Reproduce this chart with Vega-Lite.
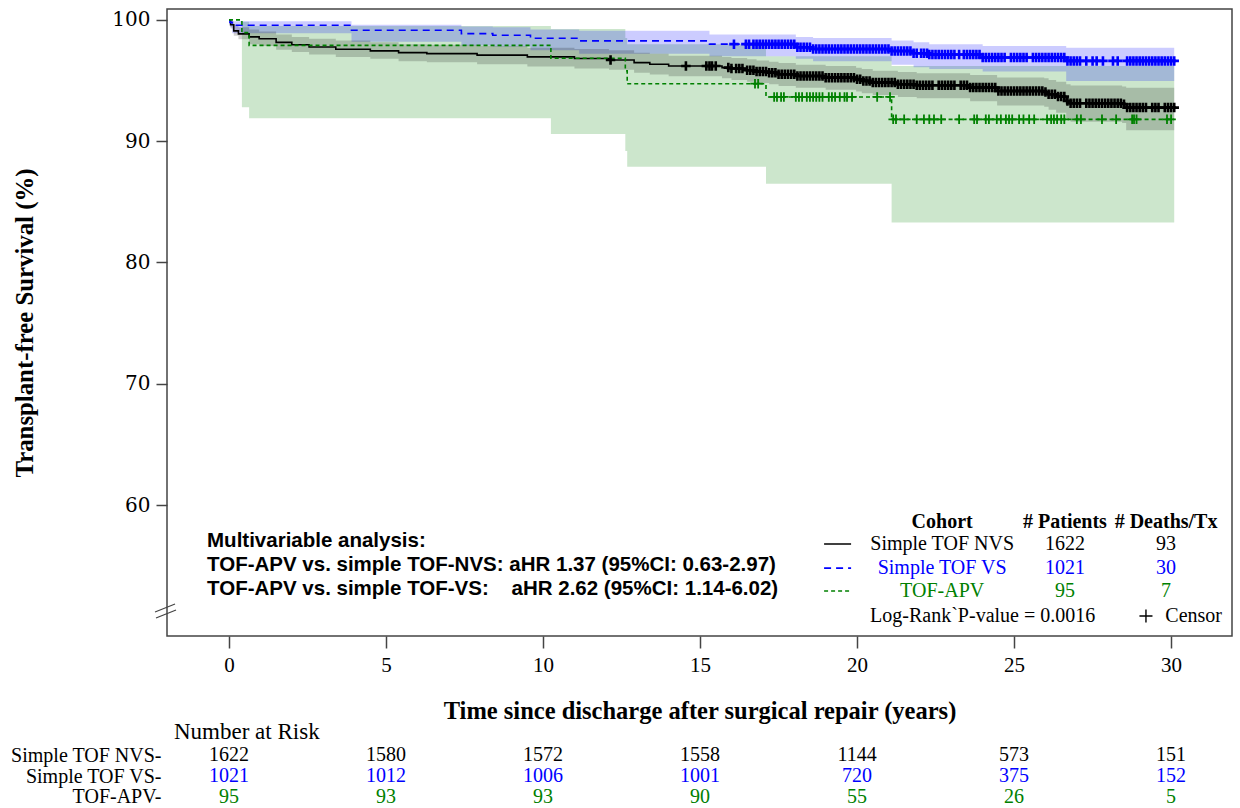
{
 "$schema": "https://vega.github.io/schema/vega-lite/v6.json",
 "background": "white",
 "padding": {"left": 10, "top": 8, "right": 5, "bottom": 0},
 "spacing": -3,
 "datasets": {
  "km": [
   {"g":"NVS","t":0,"v":100,"hi":100,"lo":100},
   {"g":"NVS","t":0.05,"v":99.6,"hi":99.9,"lo":99.3},
   {"g":"NVS","t":0.15,"v":99.1,"hi":99.6,"lo":98.7},
   {"g":"NVS","t":0.3,"v":98.85,"hi":99.4,"lo":98.4},
   {"g":"NVS","t":0.64,"v":98.6,"hi":99.2,"lo":98.0},
   {"g":"NVS","t":0.96,"v":98.45,"hi":99.05,"lo":97.85},
   {"g":"NVS","t":1.5,"v":98.15,"hi":98.8,"lo":97.55},
   {"g":"NVS","t":2.0,"v":97.95,"hi":98.6,"lo":97.35},
   {"g":"NVS","t":2.55,"v":97.77,"hi":98.45,"lo":97.15},
   {"g":"NVS","t":3.4,"v":97.58,"hi":98.3,"lo":96.95},
   {"g":"NVS","t":4.5,"v":97.45,"hi":98.15,"lo":96.8},
   {"g":"NVS","t":5.4,"v":97.3,"hi":98.0,"lo":96.6},
   {"g":"NVS","t":6.3,"v":97.22,"hi":97.95,"lo":96.5},
   {"g":"NVS","t":7.9,"v":97.1,"hi":97.85,"lo":96.35},
   {"g":"NVS","t":9.5,"v":96.95,"hi":97.7,"lo":96.15},
   {"g":"NVS","t":11.0,"v":96.82,"hi":97.6,"lo":96.0},
   {"g":"NVS","t":12.1,"v":96.7,"hi":97.5,"lo":95.9},
   {"g":"NVS","t":12.9,"v":96.48,"hi":97.3,"lo":95.65},
   {"g":"NVS","t":13.4,"v":96.35,"hi":97.2,"lo":95.5},
   {"g":"NVS","t":14.0,"v":96.2,"hi":97.05,"lo":95.35},
   {"g":"NVS","t":15.7,"v":96.07,"hi":96.95,"lo":95.2},
   {"g":"NVS","t":16.0,"v":95.99,"hi":96.85,"lo":95.05},
   {"g":"NVS","t":16.5,"v":95.85,"hi":96.75,"lo":94.9},
   {"g":"NVS","t":16.8,"v":95.74,"hi":96.65,"lo":94.8},
   {"g":"NVS","t":17.2,"v":95.65,"hi":96.55,"lo":94.7},
   {"g":"NVS","t":17.5,"v":95.52,"hi":96.45,"lo":94.55},
   {"g":"NVS","t":18.05,"v":95.38,"hi":96.3,"lo":94.4},
   {"g":"NVS","t":19.0,"v":95.24,"hi":96.2,"lo":94.25},
   {"g":"NVS","t":19.97,"v":95.1,"hi":96.05,"lo":94.1},
   {"g":"NVS","t":20.15,"v":94.97,"hi":95.95,"lo":93.95},
   {"g":"NVS","t":20.5,"v":94.83,"hi":95.8,"lo":93.8},
   {"g":"NVS","t":21.3,"v":94.7,"hi":95.7,"lo":93.65},
   {"g":"NVS","t":21.9,"v":94.61,"hi":95.6,"lo":93.55},
   {"g":"NVS","t":23.6,"v":94.42,"hi":95.45,"lo":93.3},
   {"g":"NVS","t":24.46,"v":94.14,"hi":95.25,"lo":92.95},
   {"g":"NVS","t":25.96,"v":94.06,"hi":95.2,"lo":92.85},
   {"g":"NVS","t":26.1,"v":93.87,"hi":95.05,"lo":92.6},
   {"g":"NVS","t":26.34,"v":93.68,"hi":94.9,"lo":92.35},
   {"g":"NVS","t":26.66,"v":93.32,"hi":94.7,"lo":91.85},
   {"g":"NVS","t":26.8,"v":93.13,"hi":94.6,"lo":91.6},
   {"g":"NVS","t":28.44,"v":93.05,"hi":94.5,"lo":91.5},
   {"g":"NVS","t":28.57,"v":92.77,"hi":94.4,"lo":90.9},
   {"g":"NVS","t":30.1,"v":92.77,"hi":94.4,"lo":90.9},
   {"g":"VS","t":0,"v":100,"hi":100,"lo":100},
   {"g":"VS","t":0.03,"v":99.8,"hi":100,"lo":99.4},
   {"g":"VS","t":0.1,"v":99.56,"hi":99.9,"lo":98.9},
   {"g":"VS","t":3.9,"v":99.15,"hi":99.6,"lo":98.2},
   {"g":"VS","t":7.4,"v":98.87,"hi":99.45,"lo":97.9},
   {"g":"VS","t":8.4,"v":98.74,"hi":99.4,"lo":97.8},
   {"g":"VS","t":9.6,"v":98.49,"hi":99.2,"lo":97.5},
   {"g":"VS","t":11.15,"v":98.27,"hi":99.1,"lo":97.2},
   {"g":"VS","t":15.3,"v":98.0,"hi":98.8,"lo":97.0},
   {"g":"VS","t":18.05,"v":97.75,"hi":98.6,"lo":96.8},
   {"g":"VS","t":18.6,"v":97.6,"hi":98.5,"lo":96.6},
   {"g":"VS","t":21.1,"v":97.44,"hi":98.3,"lo":96.3},
   {"g":"VS","t":21.8,"v":97.25,"hi":98.15,"lo":96.1},
   {"g":"VS","t":22.3,"v":97.15,"hi":98.0,"lo":95.95},
   {"g":"VS","t":24.0,"v":96.9,"hi":97.85,"lo":95.75},
   {"g":"VS","t":26.66,"v":96.62,"hi":97.7,"lo":94.97},
   {"g":"VS","t":30.1,"v":96.62,"hi":97.7,"lo":94.97},
   {"g":"APV","t":0,"v":100,"hi":100,"lo":100},
   {"g":"APV","t":0.41,"v":98.95,"hi":99.85,"lo":92.8},
   {"g":"APV","t":0.64,"v":97.9,"hi":99.5,"lo":91.9},
   {"g":"APV","t":10.25,"v":96.84,"hi":99.25,"lo":90.6},
   {"g":"APV","t":12.62,"v":95.8,"hi":98.5,"lo":89.2},
   {"g":"APV","t":12.68,"v":94.74,"hi":98.0,"lo":87.9},
   {"g":"APV","t":17.1,"v":93.65,"hi":97.0,"lo":86.5},
   {"g":"APV","t":21.1,"v":91.8,"hi":96.2,"lo":83.3},
   {"g":"APV","t":30.1,"v":91.8,"hi":96.2,"lo":83.3}
  ],
  "cens": [
   {"g":"NVS","t":12.15,"v":96.7},{"g":"NVS","t":14.55,"v":96.2},{"g":"NVS","t":15.2,"v":96.2},{"g":"NVS","t":15.3,"v":96.2},{"g":"NVS","t":15.38,"v":96.2},{"g":"NVS","t":15.5,"v":96.2},{"g":"NVS","t":15.9,"v":96.07},{"g":"NVS","t":16.0,"v":95.99},{"g":"NVS","t":16.15,"v":95.99},{"g":"NVS","t":16.25,"v":95.99},{"g":"NVS","t":16.35,"v":95.99},
   {"g":"NVS","t":16.5,"v":95.85},{"g":"NVS","t":16.6,"v":95.85},{"g":"NVS","t":16.7,"v":95.85},
   {"g":"NVS","t":16.8,"v":95.74},{"g":"NVS","t":16.9,"v":95.74},{"g":"NVS","t":17.0,"v":95.74},{"g":"NVS","t":17.1,"v":95.74},
   {"g":"NVS","t":17.2,"v":95.65},{"g":"NVS","t":17.3,"v":95.65},{"g":"NVS","t":17.4,"v":95.65},
   {"g":"NVS","t":17.5,"v":95.52},{"g":"NVS","t":17.6,"v":95.52},{"g":"NVS","t":17.7,"v":95.52},{"g":"NVS","t":17.8,"v":95.52},{"g":"NVS","t":17.9,"v":95.52},{"g":"NVS","t":18.0,"v":95.52},
   {"g":"NVS","t":18.1,"v":95.38},{"g":"NVS","t":18.2,"v":95.38},{"g":"NVS","t":18.3,"v":95.38},{"g":"NVS","t":18.4,"v":95.38},{"g":"NVS","t":18.5,"v":95.38},{"g":"NVS","t":18.6,"v":95.38},{"g":"NVS","t":18.7,"v":95.38},{"g":"NVS","t":18.8,"v":95.38},{"g":"NVS","t":18.9,"v":95.38},
   {"g":"NVS","t":19.0,"v":95.24},{"g":"NVS","t":19.1,"v":95.24},{"g":"NVS","t":19.2,"v":95.24},{"g":"NVS","t":19.3,"v":95.24},{"g":"NVS","t":19.4,"v":95.24},{"g":"NVS","t":19.5,"v":95.24},{"g":"NVS","t":19.6,"v":95.24},{"g":"NVS","t":19.7,"v":95.24},{"g":"NVS","t":19.8,"v":95.24},{"g":"NVS","t":19.9,"v":95.24},
   {"g":"NVS","t":20.0,"v":95.1},{"g":"NVS","t":20.1,"v":95.1},
   {"g":"NVS","t":20.2,"v":94.97},{"g":"NVS","t":20.3,"v":94.97},{"g":"NVS","t":20.4,"v":94.97},
   {"g":"NVS","t":20.5,"v":94.83},{"g":"NVS","t":20.6,"v":94.83},{"g":"NVS","t":20.7,"v":94.83},{"g":"NVS","t":20.8,"v":94.83},{"g":"NVS","t":20.9,"v":94.83},{"g":"NVS","t":21.0,"v":94.83},{"g":"NVS","t":21.1,"v":94.83},{"g":"NVS","t":21.2,"v":94.83},
   {"g":"NVS","t":21.3,"v":94.7},{"g":"NVS","t":21.4,"v":94.7},{"g":"NVS","t":21.5,"v":94.7},{"g":"NVS","t":21.6,"v":94.7},{"g":"NVS","t":21.7,"v":94.7},{"g":"NVS","t":21.8,"v":94.7},
   {"g":"NVS","t":21.9,"v":94.61},{"g":"NVS","t":22.0,"v":94.61},{"g":"NVS","t":22.1,"v":94.61},{"g":"NVS","t":22.2,"v":94.61},{"g":"NVS","t":22.3,"v":94.61},{"g":"NVS","t":22.4,"v":94.61},{"g":"NVS","t":22.6,"v":94.61},{"g":"NVS","t":22.7,"v":94.61},{"g":"NVS","t":22.8,"v":94.61},{"g":"NVS","t":22.9,"v":94.61},{"g":"NVS","t":23.0,"v":94.61},{"g":"NVS","t":23.1,"v":94.61},{"g":"NVS","t":23.3,"v":94.61},{"g":"NVS","t":23.4,"v":94.61},{"g":"NVS","t":23.5,"v":94.61},
   {"g":"NVS","t":23.6,"v":94.42},{"g":"NVS","t":23.7,"v":94.42},{"g":"NVS","t":23.8,"v":94.42},{"g":"NVS","t":23.9,"v":94.42},{"g":"NVS","t":24.0,"v":94.42},{"g":"NVS","t":24.1,"v":94.42},{"g":"NVS","t":24.2,"v":94.42},{"g":"NVS","t":24.3,"v":94.42},{"g":"NVS","t":24.4,"v":94.42},
   {"g":"NVS","t":24.5,"v":94.14},{"g":"NVS","t":24.6,"v":94.14},{"g":"NVS","t":24.7,"v":94.14},{"g":"NVS","t":24.8,"v":94.14},{"g":"NVS","t":24.9,"v":94.14},{"g":"NVS","t":25.0,"v":94.14},{"g":"NVS","t":25.1,"v":94.14},{"g":"NVS","t":25.2,"v":94.14},{"g":"NVS","t":25.3,"v":94.14},{"g":"NVS","t":25.4,"v":94.14},{"g":"NVS","t":25.5,"v":94.14},{"g":"NVS","t":25.6,"v":94.14},{"g":"NVS","t":25.7,"v":94.14},{"g":"NVS","t":25.8,"v":94.14},{"g":"NVS","t":25.9,"v":94.14},
   {"g":"NVS","t":26.0,"v":94.06},{"g":"NVS","t":26.1,"v":93.87},{"g":"NVS","t":26.2,"v":93.87},{"g":"NVS","t":26.3,"v":93.87},{"g":"NVS","t":26.4,"v":93.68},{"g":"NVS","t":26.5,"v":93.68},{"g":"NVS","t":26.6,"v":93.68},{"g":"NVS","t":26.7,"v":93.32},
   {"g":"NVS","t":26.8,"v":93.13},{"g":"NVS","t":26.9,"v":93.13},{"g":"NVS","t":27.0,"v":93.13},{"g":"NVS","t":27.1,"v":93.13},{"g":"NVS","t":27.3,"v":93.13},{"g":"NVS","t":27.4,"v":93.13},{"g":"NVS","t":27.5,"v":93.13},{"g":"NVS","t":27.6,"v":93.13},{"g":"NVS","t":27.7,"v":93.13},{"g":"NVS","t":27.8,"v":93.13},{"g":"NVS","t":27.9,"v":93.13},{"g":"NVS","t":28.0,"v":93.13},{"g":"NVS","t":28.1,"v":93.13},{"g":"NVS","t":28.2,"v":93.13},{"g":"NVS","t":28.3,"v":93.13},{"g":"NVS","t":28.4,"v":93.13},
   {"g":"NVS","t":28.5,"v":93.05},
   {"g":"NVS","t":28.6,"v":92.77},{"g":"NVS","t":28.7,"v":92.77},{"g":"NVS","t":28.8,"v":92.77},{"g":"NVS","t":28.9,"v":92.77},{"g":"NVS","t":29.0,"v":92.77},{"g":"NVS","t":29.1,"v":92.77},{"g":"NVS","t":29.2,"v":92.77},{"g":"NVS","t":29.4,"v":92.77},{"g":"NVS","t":29.5,"v":92.77},{"g":"NVS","t":29.6,"v":92.77},{"g":"NVS","t":29.8,"v":92.77},{"g":"NVS","t":29.9,"v":92.77},{"g":"NVS","t":30.0,"v":92.77},{"g":"NVS","t":30.1,"v":92.77},
   {"g":"VS","t":16.08,"v":98.0},{"g":"VS","t":16.46,"v":98.0},{"g":"VS","t":16.56,"v":98.0},
   {"g":"VS","t":16.7,"v":98.0},{"g":"VS","t":16.8,"v":98.0},{"g":"VS","t":16.9,"v":98.0},{"g":"VS","t":17.0,"v":98.0},{"g":"VS","t":17.1,"v":98.0},{"g":"VS","t":17.2,"v":98.0},{"g":"VS","t":17.3,"v":98.0},{"g":"VS","t":17.4,"v":98.0},{"g":"VS","t":17.5,"v":98.0},{"g":"VS","t":17.6,"v":98.0},{"g":"VS","t":17.7,"v":98.0},{"g":"VS","t":17.8,"v":98.0},{"g":"VS","t":17.9,"v":98.0},{"g":"VS","t":18.0,"v":98.0},
   {"g":"VS","t":18.1,"v":97.75},{"g":"VS","t":18.2,"v":97.75},{"g":"VS","t":18.3,"v":97.75},{"g":"VS","t":18.4,"v":97.75},{"g":"VS","t":18.5,"v":97.75},
   {"g":"VS","t":18.6,"v":97.6},{"g":"VS","t":18.7,"v":97.6},{"g":"VS","t":18.8,"v":97.6},{"g":"VS","t":18.9,"v":97.6},{"g":"VS","t":19.0,"v":97.6},{"g":"VS","t":19.1,"v":97.6},{"g":"VS","t":19.2,"v":97.6},{"g":"VS","t":19.3,"v":97.6},{"g":"VS","t":19.4,"v":97.6},{"g":"VS","t":19.5,"v":97.6},{"g":"VS","t":19.6,"v":97.6},{"g":"VS","t":19.7,"v":97.6},{"g":"VS","t":19.8,"v":97.6},{"g":"VS","t":19.9,"v":97.6},{"g":"VS","t":20.0,"v":97.6},{"g":"VS","t":20.1,"v":97.6},{"g":"VS","t":20.2,"v":97.6},{"g":"VS","t":20.3,"v":97.6},{"g":"VS","t":20.4,"v":97.6},{"g":"VS","t":20.5,"v":97.6},{"g":"VS","t":20.6,"v":97.6},{"g":"VS","t":20.7,"v":97.6},{"g":"VS","t":20.8,"v":97.6},{"g":"VS","t":20.9,"v":97.6},{"g":"VS","t":21.0,"v":97.6},
   {"g":"VS","t":21.1,"v":97.44},{"g":"VS","t":21.2,"v":97.44},{"g":"VS","t":21.3,"v":97.44},{"g":"VS","t":21.4,"v":97.44},{"g":"VS","t":21.5,"v":97.44},{"g":"VS","t":21.6,"v":97.44},{"g":"VS","t":21.7,"v":97.44},
   {"g":"VS","t":21.8,"v":97.25},{"g":"VS","t":21.9,"v":97.25},{"g":"VS","t":22.04,"v":97.25},{"g":"VS","t":22.13,"v":97.25},{"g":"VS","t":22.23,"v":97.25},
   {"g":"VS","t":22.3,"v":97.15},{"g":"VS","t":22.4,"v":97.15},{"g":"VS","t":22.5,"v":97.15},{"g":"VS","t":22.6,"v":97.15},{"g":"VS","t":22.7,"v":97.15},{"g":"VS","t":22.8,"v":97.15},{"g":"VS","t":22.9,"v":97.15},{"g":"VS","t":23.0,"v":97.15},{"g":"VS","t":23.1,"v":97.15},{"g":"VS","t":23.25,"v":97.15},{"g":"VS","t":23.4,"v":97.15},{"g":"VS","t":23.5,"v":97.15},{"g":"VS","t":23.6,"v":97.15},{"g":"VS","t":23.7,"v":97.15},{"g":"VS","t":23.8,"v":97.15},{"g":"VS","t":23.9,"v":97.15},
   {"g":"VS","t":24.0,"v":96.9},{"g":"VS","t":24.1,"v":96.9},{"g":"VS","t":24.2,"v":96.9},{"g":"VS","t":24.3,"v":96.9},{"g":"VS","t":24.4,"v":96.9},{"g":"VS","t":24.5,"v":96.9},{"g":"VS","t":24.6,"v":96.9},{"g":"VS","t":24.7,"v":96.9},{"g":"VS","t":24.9,"v":96.9},{"g":"VS","t":25.0,"v":96.9},{"g":"VS","t":25.1,"v":96.9},{"g":"VS","t":25.2,"v":96.9},{"g":"VS","t":25.3,"v":96.9},{"g":"VS","t":25.4,"v":96.9},{"g":"VS","t":25.6,"v":96.9},{"g":"VS","t":25.7,"v":96.9},{"g":"VS","t":25.8,"v":96.9},{"g":"VS","t":25.9,"v":96.9},{"g":"VS","t":26.0,"v":96.9},{"g":"VS","t":26.1,"v":96.9},{"g":"VS","t":26.2,"v":96.9},{"g":"VS","t":26.3,"v":96.9},{"g":"VS","t":26.4,"v":96.9},{"g":"VS","t":26.5,"v":96.9},{"g":"VS","t":26.6,"v":96.9},
   {"g":"VS","t":26.7,"v":96.62},{"g":"VS","t":26.8,"v":96.62},{"g":"VS","t":26.9,"v":96.62},{"g":"VS","t":27.0,"v":96.62},{"g":"VS","t":27.1,"v":96.62},{"g":"VS","t":27.3,"v":96.62},{"g":"VS","t":27.5,"v":96.62},{"g":"VS","t":27.63,"v":96.62},{"g":"VS","t":27.83,"v":96.62},{"g":"VS","t":28.15,"v":96.62},{"g":"VS","t":28.3,"v":96.62},{"g":"VS","t":28.6,"v":96.62},{"g":"VS","t":28.7,"v":96.62},{"g":"VS","t":28.8,"v":96.62},{"g":"VS","t":28.9,"v":96.62},{"g":"VS","t":29.0,"v":96.62},{"g":"VS","t":29.1,"v":96.62},{"g":"VS","t":29.2,"v":96.62},{"g":"VS","t":29.3,"v":96.62},{"g":"VS","t":29.4,"v":96.62},{"g":"VS","t":29.5,"v":96.62},{"g":"VS","t":29.6,"v":96.62},{"g":"VS","t":29.7,"v":96.62},{"g":"VS","t":29.8,"v":96.62},{"g":"VS","t":29.9,"v":96.62},{"g":"VS","t":30.0,"v":96.62},{"g":"VS","t":30.1,"v":96.62},
   {"g":"APV","t":16.75,"v":94.74},{"g":"APV","t":16.85,"v":94.74},
   {"g":"APV","t":17.36,"v":93.65},{"g":"APV","t":17.45,"v":93.65},{"g":"APV","t":17.58,"v":93.65},{"g":"APV","t":17.67,"v":93.65},{"g":"APV","t":18.05,"v":93.65},{"g":"APV","t":18.15,"v":93.65},{"g":"APV","t":18.25,"v":93.65},{"g":"APV","t":18.4,"v":93.65},{"g":"APV","t":18.5,"v":93.65},{"g":"APV","t":18.6,"v":93.65},{"g":"APV","t":18.7,"v":93.65},{"g":"APV","t":18.8,"v":93.65},{"g":"APV","t":18.9,"v":93.65},{"g":"APV","t":19.1,"v":93.65},{"g":"APV","t":19.2,"v":93.65},{"g":"APV","t":19.3,"v":93.65},{"g":"APV","t":19.45,"v":93.65},{"g":"APV","t":19.6,"v":93.65},{"g":"APV","t":19.68,"v":93.65},{"g":"APV","t":19.84,"v":93.65},{"g":"APV","t":20.64,"v":93.65},{"g":"APV","t":21.05,"v":93.65},
   {"g":"APV","t":21.15,"v":91.8},{"g":"APV","t":21.24,"v":91.8},{"g":"APV","t":21.5,"v":91.8},{"g":"APV","t":21.9,"v":91.8},{"g":"APV","t":22.13,"v":91.8},{"g":"APV","t":22.3,"v":91.8},{"g":"APV","t":22.45,"v":91.8},{"g":"APV","t":22.68,"v":91.8},{"g":"APV","t":23.25,"v":91.8},{"g":"APV","t":23.73,"v":91.8},{"g":"APV","t":23.82,"v":91.8},{"g":"APV","t":24.1,"v":91.8},{"g":"APV","t":24.2,"v":91.8},{"g":"APV","t":24.45,"v":91.8},{"g":"APV","t":24.58,"v":91.8},{"g":"APV","t":24.74,"v":91.8},{"g":"APV","t":24.84,"v":91.8},{"g":"APV","t":24.94,"v":91.8},{"g":"APV","t":25.16,"v":91.8},{"g":"APV","t":25.3,"v":91.8},{"g":"APV","t":25.48,"v":91.8},{"g":"APV","t":25.64,"v":91.8},{"g":"APV","t":26.05,"v":91.8},{"g":"APV","t":26.18,"v":91.8},{"g":"APV","t":26.27,"v":91.8},{"g":"APV","t":26.37,"v":91.8},{"g":"APV","t":26.5,"v":91.8},{"g":"APV","t":26.6,"v":91.8},{"g":"APV","t":27.0,"v":91.8},{"g":"APV","t":27.13,"v":91.8},{"g":"APV","t":27.8,"v":91.8},{"g":"APV","t":28.25,"v":91.8},{"g":"APV","t":28.76,"v":91.8},{"g":"APV","t":28.82,"v":91.8},{"g":"APV","t":28.9,"v":91.8},{"g":"APV","t":29.87,"v":91.8},{"g":"APV","t":30.0,"v":91.8}
  ],
  "ann": [
   {"t":-0.7,"v":57.03,"label":"Multivariable analysis:"},
   {"t":-0.7,"v":55.05,"label":"TOF-APV vs. simple TOF-NVS: aHR 1.37 (95%CI: 0.63-2.97)"},
   {"t":-0.7,"v":53.07,"label":"TOF-APV vs. simple TOF-VS:\u00a0\u00a0\u00a0 aHR 2.62 (95%CI: 1.14-6.02)"}
  ],
  "leghead": [
   {"t":22.71,"v":58.6,"label":"Cohort"},
   {"t":26.62,"v":58.6,"label":"# Patients"},
   {"t":29.84,"v":58.6,"label":"# Deaths/Tx"}
  ],
  "legcell": [
   {"g":"NVS","t":22.71,"v":56.78,"label":"Simple TOF NVS"},
   {"g":"NVS","t":26.62,"v":56.78,"label":"1622"},
   {"g":"NVS","t":29.84,"v":56.78,"label":"93"},
   {"g":"VS","t":22.71,"v":54.8,"label":"Simple TOF VS"},
   {"g":"VS","t":26.62,"v":54.8,"label":"1021"},
   {"g":"VS","t":29.84,"v":54.8,"label":"30"},
   {"g":"APV","t":22.71,"v":52.91,"label":"TOF-APV"},
   {"g":"APV","t":26.62,"v":52.91,"label":"95"},
   {"g":"APV","t":29.84,"v":52.91,"label":"7"},
   {"g":"NVS","t":24.0,"v":50.85,"label":"Log-Rank`P-value = 0.0016"},
   {"g":"NVS","t":30.72,"v":50.85,"label":"Censor"}
  ],
  "legline": [
   {"g":"NVS","t":18.95,"t2":19.81,"v":56.78},
   {"g":"VS","t":18.95,"t2":19.81,"v":54.8},
   {"g":"APV","t":18.95,"t2":19.81,"v":52.91}
  ],
  "legcen": [{"t":29.2,"v":50.85}],
  "brk": [
   {"t":-2.357,"v":51.18,"t2":-1.72,"v2":51.84},
   {"t":-2.325,"v":50.68,"t2":-1.688,"v2":51.34}
  ],
  "risk": [
   {"row":"Simple TOF NVS-","g":"NVS","t":0,"n":"1622"},{"row":"Simple TOF NVS-","g":"NVS","t":5,"n":"1580"},{"row":"Simple TOF NVS-","g":"NVS","t":10,"n":"1572"},{"row":"Simple TOF NVS-","g":"NVS","t":15,"n":"1558"},{"row":"Simple TOF NVS-","g":"NVS","t":20,"n":"1144"},{"row":"Simple TOF NVS-","g":"NVS","t":25,"n":"573"},{"row":"Simple TOF NVS-","g":"NVS","t":30,"n":"151"},
   {"row":"Simple TOF VS-","g":"VS","t":0,"n":"1021"},{"row":"Simple TOF VS-","g":"VS","t":5,"n":"1012"},{"row":"Simple TOF VS-","g":"VS","t":10,"n":"1006"},{"row":"Simple TOF VS-","g":"VS","t":15,"n":"1001"},{"row":"Simple TOF VS-","g":"VS","t":20,"n":"720"},{"row":"Simple TOF VS-","g":"VS","t":25,"n":"375"},{"row":"Simple TOF VS-","g":"VS","t":30,"n":"152"},
   {"row":"TOF-APV-","g":"APV","t":0,"n":"95"},{"row":"TOF-APV-","g":"APV","t":5,"n":"93"},{"row":"TOF-APV-","g":"APV","t":10,"n":"93"},{"row":"TOF-APV-","g":"APV","t":15,"n":"90"},{"row":"TOF-APV-","g":"APV","t":20,"n":"55"},{"row":"TOF-APV-","g":"APV","t":25,"n":"26"},{"row":"TOF-APV-","g":"APV","t":30,"n":"5"}
  ]
 },
 "vconcat": [
  {
   "width": 1065,
   "height": 627,
   "view": {"stroke": "#444444", "strokeWidth": 1.5},
   "encoding": {
    "x": {"field": "t", "type": "quantitative", "scale": {"domain": [-1.975, 31.94], "nice": false, "zero": false}, "axis": {"values": [0, 5, 10, 15, 20, 25, 30]}, "title": "Time since discharge after surgical repair (years)"},
    "y": {"field": "v", "type": "quantitative", "scale": {"domain": [49.2, 100.9], "nice": false, "zero": false}, "axis": {"values": [60, 70, 80, 90, 100]}, "title": "Transplant-free Survival (%)"}
   },
   "layer": [
    {
     "data": {"name": "km"},
     "transform": [{"filter": "datum.g === 'APV'"}],
     "mark": {"type": "area", "interpolate": "step-after", "fill": "#008000", "fillOpacity": 0.2},
     "encoding": {
      "y": {"field": "hi", "type": "quantitative", "scale": {"domain": [49.2, 100.9], "nice": false, "zero": false}, "axis": {"values": [60, 70, 80, 90, 100]}, "title": "Transplant-free Survival (%)"},
      "y2": {"field": "lo"}
     }
    },
    {
     "data": {"name": "km"},
     "transform": [{"filter": "datum.g === 'VS'"}],
     "mark": {"type": "area", "interpolate": "step-after", "fill": "#0000ff", "fillOpacity": 0.2},
     "encoding": {
      "y": {"field": "hi", "type": "quantitative", "scale": {"domain": [49.2, 100.9], "nice": false, "zero": false}, "axis": {"values": [60, 70, 80, 90, 100]}, "title": "Transplant-free Survival (%)"},
      "y2": {"field": "lo"}
     }
    },
    {
     "data": {"name": "km"},
     "transform": [{"filter": "datum.g === 'NVS'"}],
     "mark": {"type": "area", "interpolate": "step-after", "fill": "#000000", "fillOpacity": 0.18},
     "encoding": {
      "y": {"field": "hi", "type": "quantitative", "scale": {"domain": [49.2, 100.9], "nice": false, "zero": false}, "axis": {"values": [60, 70, 80, 90, 100]}, "title": "Transplant-free Survival (%)"},
      "y2": {"field": "lo"}
     }
    },
    {
     "data": {"name": "km"},
     "mark": {"type": "line", "interpolate": "step-after", "strokeWidth": 1.6},
     "encoding": {
      "color": {"field": "g", "type": "nominal", "scale": {"domain": ["NVS", "VS", "APV"], "range": ["#000000", "#0000ff", "#008000"]}, "legend": null},
      "strokeDash": {"field": "g", "type": "nominal", "scale": {"domain": ["NVS", "VS", "APV"], "range": [[1, 0], [7, 5], [4, 3]]}, "legend": null}
     }
    },
    {
     "data": {"name": "cens"},
     "transform": [{"filter": "datum.g !== 'APV'"}],
     "mark": {"type": "point", "shape": "M0,-1V1M-1,0H1", "filled": false, "size": 90, "strokeWidth": 2.6, "opacity": 1},
     "encoding": {
      "color": {"field": "g", "type": "nominal", "scale": {"domain": ["NVS", "VS", "APV"], "range": ["#000000", "#0000ff", "#008000"]}, "legend": null}
     }
    },
    {
     "data": {"name": "cens"},
     "transform": [{"filter": "datum.g === 'APV'"}],
     "mark": {"type": "point", "shape": "M0,-1V1M-1,0H1", "filled": false, "size": 90, "strokeWidth": 1.8, "opacity": 1},
     "encoding": {
      "color": {"field": "g", "type": "nominal", "scale": {"domain": ["NVS", "VS", "APV"], "range": ["#000000", "#0000ff", "#008000"]}, "legend": null}
     }
    },
    {
     "data": {"name": "ann"},
     "mark": {"type": "text", "align": "left", "baseline": "middle", "font": "Liberation Sans", "fontSize": 20.5, "fontWeight": "bold", "color": "#000000"},
     "encoding": {"text": {"field": "label", "type": "nominal"}}
    },
    {
     "data": {"name": "leghead"},
     "mark": {"type": "text", "align": "center", "baseline": "middle", "font": "Liberation Serif", "fontSize": 20, "fontWeight": "bold", "color": "#000000"},
     "encoding": {"text": {"field": "label", "type": "nominal"}}
    },
    {
     "data": {"name": "legcell"},
     "mark": {"type": "text", "align": "center", "baseline": "middle", "font": "Liberation Serif", "fontSize": 20},
     "encoding": {
      "text": {"field": "label", "type": "nominal"},
      "color": {"field": "g", "type": "nominal", "scale": {"domain": ["NVS", "VS", "APV"], "range": ["#000000", "#0000ff", "#008000"]}, "legend": null}
     }
    },
    {
     "data": {"name": "legline"},
     "mark": {"type": "rule", "strokeWidth": 1.6},
     "encoding": {
      "x2": {"field": "t2"},
      "color": {"field": "g", "type": "nominal", "scale": {"domain": ["NVS", "VS", "APV"], "range": ["#000000", "#0000ff", "#008000"]}, "legend": null},
      "strokeDash": {"field": "g", "type": "nominal", "scale": {"domain": ["NVS", "VS", "APV"], "range": [[1, 0], [7, 5], [4, 3]]}, "legend": null}
     }
    },
    {
     "data": {"name": "legcen"},
     "mark": {"type": "point", "shape": "M0,-1V1M-1,0H1", "filled": false, "size": 170, "strokeWidth": 1.4, "color": "#000000", "opacity": 1}
    },
    {
     "data": {"name": "brk"},
     "mark": {"type": "rule", "strokeWidth": 1.2, "color": "#444444"},
     "encoding": {"x2": {"field": "t2"}, "y2": {"field": "v2"}}
    }
   ]
  },
  {
   "width": 1065,
   "height": 62,
   "view": {"stroke": null},
   "title": {"text": "Number at Risk", "anchor": "start", "frame": "group", "font": "Liberation Serif", "fontSize": 23, "fontWeight": "normal", "color": "#000000", "offset": 1, "dx": 7},
   "data": {"name": "risk"},
   "mark": {"type": "text", "font": "Liberation Serif", "fontSize": 20, "align": "center", "baseline": "middle"},
   "encoding": {
    "x": {"field": "t", "type": "quantitative", "scale": {"domain": [-1.975, 31.94], "nice": false, "zero": false}, "axis": null},
    "y": {"field": "row", "type": "nominal", "sort": ["Simple TOF NVS-", "Simple TOF VS-", "TOF-APV-"], "scale": {"paddingInner": 0, "paddingOuter": 0}, "axis": {"title": null, "ticks": false, "domain": false, "labelFont": "Liberation Serif", "labelFontSize": 20, "labelPadding": 6, "labelColor": "#000000", "labelLimit": 400}},
    "text": {"field": "n", "type": "nominal"},
    "color": {"field": "g", "type": "nominal", "scale": {"domain": ["NVS", "VS", "APV"], "range": ["#000000", "#0000ff", "#008000"]}, "legend": null}
   }
  }
 ],
 "config": {
  "axis": {"grid": false, "domain": false, "tickColor": "#444444", "tickWidth": 1.5, "labelColor": "#000000", "titleColor": "#000000"},
  "axisX": {"tickSize": 12, "labelFont": "Liberation Serif", "labelFontSize": 21, "labelPadding": 6, "titleFont": "Liberation Serif", "titleFontSize": 24.5, "titleFontWeight": "bold", "titlePadding": 24},
  "axisY": {"tickSize": 11, "labelFont": "DejaVu Serif", "labelFontSize": 20, "labelPadding": 6, "titleFont": "Liberation Serif", "titleFontSize": 24.8, "titleFontWeight": "bold", "titlePadding": 74}
 }
}
